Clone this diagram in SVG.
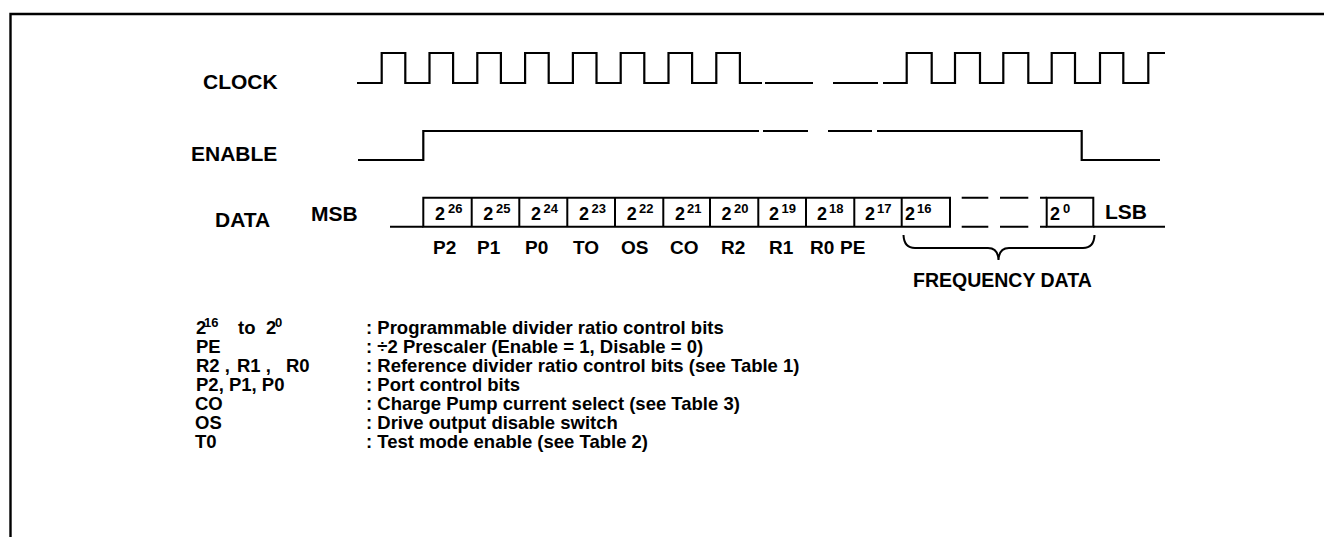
<svg xmlns="http://www.w3.org/2000/svg" width="1324" height="537" viewBox="0 0 1324 537">
<style>
text{font-family:"Liberation Sans",Arial,sans-serif;font-weight:bold;fill:#000}
.h{font-size:21px}
.lb{font-size:19px}
.fq{font-size:19.5px}
.lg{font-size:18.5px}
.d{font-size:18px}
.s{font-size:13px}
.w{fill:none;stroke:#000;stroke-width:2.2}
.b{fill:none;stroke:#000;stroke-width:2}
</style>
<rect width="1324" height="537" fill="#fff"/>
<path d="M10.5,537 V14 H1324" fill="none" stroke="#000" stroke-width="2.4"/>

<g id="labels">
<text class="h" x="203" y="89">CLOCK</text>
<text class="h" x="191" y="161">ENABLE</text>
<text class="h" x="215" y="227">DATA</text>
<text class="h" x="311" y="221">MSB</text>
<text class="h" x="1105" y="219">LSB</text>
</g>

<g id="clock">
<path class="w" d="M357,83 H381.7 V53 H405.3 V83 H429.5 V53 H453.1 V83 H477.3 V53 H500.9 V83 H525.1 V53 H548.7 V83 H572.9 V53 H596.5 V83 H620.7 V53 H644.3 V83 H668.5 V53 H692.1 V83 H716.3 V53 H739.9 V83 H762"/>
<path class="w" d="M765,83 H813"/>
<path class="w" d="M833,83 H878"/>
<path class="w" d="M883,83 H906.7 V53 H931.7 V83 H955 V53 H980 V83 H1003.3 V53 H1028.3 V83 H1051.7 V53 H1075 V83 H1100 V53 H1123.3 V83 H1148.3 V53 H1165"/>
</g>

<g id="enable">
<path class="w" d="M358,160 H423.3 V131 H759"/>
<path class="w" d="M763,131 H808"/>
<path class="w" d="M828,131 H872"/>
<path class="w" d="M877,131 H1081.7 V160 H1160"/>
</g>

<g id="data">
<path class="b" d="M390,226.7 H423.3"/>
<path class="b" d="M423.3,197.7 H950 V226.7 H423.3 Z M471.7,197.7 V226.7 M519.3,197.7 V226.7 M567.3,197.7 V226.7 M615,197.7 V226.7 M663.3,197.7 V226.7 M710,197.7 V226.7 M758.3,197.7 V226.7 M806,197.7 V226.7 M854.3,197.7 V226.7 M901.7,197.7 V226.7"/>
<path class="b" d="M961.7,197.7 H988.3 M1000,197.7 H1028.3 M1040,197.7 H1046.7 M961.7,226.7 H988.3 M1000,226.7 H1028.3 M1040,226.7 H1046.7"/>
<path class="b" d="M1046.7,197.7 H1093.3 V226.7 H1046.7 Z"/>
<path class="b" d="M1093.3,226.7 H1165"/>
</g>

<g id="bit26"><text class="d" x="435" y="220">2</text><text class="s" x="448" y="213">26</text></g>
<g id="bit25"><text class="d" x="483.3" y="220">2</text><text class="s" x="496" y="213">25</text></g>
<g id="bit24"><text class="d" x="531" y="220">2</text><text class="s" x="543.5" y="213">24</text></g>
<g id="bit23"><text class="d" x="579" y="220">2</text><text class="s" x="591.5" y="213">23</text></g>
<g id="bit22"><text class="d" x="626.7" y="220">2</text><text class="s" x="639" y="213">22</text></g>
<g id="bit21"><text class="d" x="675" y="220">2</text><text class="s" x="687" y="213">21</text></g>
<g id="bit20"><text class="d" x="721.5" y="220">2</text><text class="s" x="734" y="213">20</text></g>
<g id="bit19"><text class="d" x="769" y="220">2</text><text class="s" x="781.5" y="213">19</text></g>
<g id="bit18"><text class="d" x="817" y="220">2</text><text class="s" x="829" y="213">18</text></g>
<g id="bit17"><text class="d" x="865" y="220">2</text><text class="s" x="877" y="213">17</text></g>
<g id="bit16"><text class="d" x="905" y="220">2</text><text class="s" x="917" y="213">16</text></g>
<g id="bit0"><text class="d" x="1050" y="220">2</text><text class="s" x="1063" y="213">0</text></g>

<g id="fields">
<text class="lb" x="433" y="254">P2</text>
<text class="lb" x="477" y="254">P1</text>
<text class="lb" x="525" y="254">P0</text>
<text class="lb" x="573" y="254">TO</text>
<text class="lb" x="621" y="254">OS</text>
<text class="lb" x="670" y="254">CO</text>
<text class="lb" x="721" y="254">R2</text>
<text class="lb" x="769" y="254">R1</text>
<text class="lb" x="810" y="254">R0</text>
<text class="lb" x="840" y="254">PE</text>
</g>

<g id="brace">
<path class="b" d="M903.5,235 Q904,248 915,248 H988 Q998,248 998.5,260 Q999,248 1009,248 H1083 Q1094,248 1094.5,235"/>
<text class="fq" x="913" y="287">FREQUENCY DATA</text>
</g>

<g id="legend">
<text class="lg" x="196" y="334">2</text><text class="s" x="204" y="327">16</text>
<text class="lg" x="238" y="334">to</text>
<text class="lg" x="266" y="334">2</text><text class="s" x="275" y="327">0</text>
<text class="lg" x="196" y="353">PE</text>
<text class="lg" x="196" y="372">R2 ,</text><text class="lg" x="237" y="372">R1 ,</text><text class="lg" x="286" y="372">R0</text>
<text class="lg" x="196" y="391">P2, P1, P0</text>
<text class="lg" x="195" y="410">CO</text>
<text class="lg" x="195" y="429">OS</text>
<text class="lg" x="195" y="448">T0</text>
<text class="lg" x="366" y="334">: Programmable divider ratio control bits</text>
<text class="lg" x="366" y="353">: ÷2 Prescaler (Enable = 1, Disable = 0)</text>
<text class="lg" x="366" y="372">: Reference divider ratio control bits (see Table 1)</text>
<text class="lg" x="366" y="391">: Port control bits</text>
<text class="lg" x="366" y="410">: Charge Pump current select (see Table 3)</text>
<text class="lg" x="366" y="429">: Drive output disable switch</text>
<text class="lg" x="366" y="448">: Test mode enable (see Table 2)</text>
</g>
</svg>
